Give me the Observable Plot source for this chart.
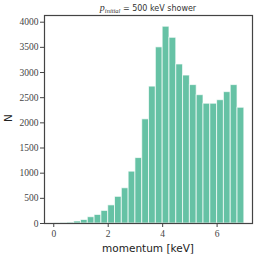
<!DOCTYPE html>
<html>
<head>
<meta charset="utf-8">
<script src="https://cdn.jsdelivr.net/npm/d3@7"></script>
<script src="https://cdn.jsdelivr.net/npm/@observablehq/plot@0.6"></script>
<style>
  body { margin: 0; background: #fff; }
  #chart svg { display: block; }
</style>
</head>
<body>
<div id="chart"></div>
<script>
// Histogram bins (keV), width 0.25
const binStarts = [0, 0.25, 0.5, 0.75, 1, 1.25, 1.5, 1.75, 2, 2.25, 2.5, 2.75, 3, 3.25, 3.5, 3.75, 4, 4.25, 4.5, 4.75, 5, 5.25, 5.5, 5.75, 6, 6.25, 6.5, 6.75];
const binWidth = 0.25;
const counts = [2, 6, 20, 40, 70, 125, 170, 250, 360, 530, 700, 1030, 1300, 2070, 2720, 3500, 3910, 3690, 3160, 2940, 2750, 2550, 2380, 2380, 2450, 2610, 2750, 2300];
const xTicks = [0, 2, 4, 6];
const yTicks = [0, 500, 1000, 1500, 2000, 2500, 3000, 3500, 4000];

const data = binStarts.map((b, i) => ({x1: b, x2: b + binWidth, n: counts[i]}));

const serif = "'Liberation Serif', 'DejaVu Serif', serif";
const sans = "'DejaVu Sans', sans-serif";
const fmt = d => String(d);

const plot = Plot.plot({
  width: 258,
  height: 259,
  marginLeft: 44,
  marginRight: 6,
  marginTop: 15,
  marginBottom: 36,
  style: {fontSize: "9px", color: "#444", background: "#fff"},
  x: {domain: [-0.34, 7.3]},
  y: {domain: [0, 4133]},
  marks: [
    Plot.rectY(data, {x1: "x1", x2: "x2", y: "n", fill: "#66c2a5", stroke: "#ffffff", strokeOpacity: 0.7, strokeWidth: 1}),
    Plot.frame({stroke: "#444", strokeWidth: 1.2}),
    Plot.axisX({ticks: xTicks, tickFormat: fmt, tickSize: 4, tickPadding: 3, label: null, fontSize: 9.5, stroke: "#444"}),
    Plot.axisY({ticks: yTicks, tickFormat: fmt, tickSize: 4, tickPadding: 2, label: null, fontSize: 9.5, stroke: "#444"})
  ]
});

const svg = d3.select(plot);
svg.selectAll("g[aria-label$='tick label'] text")
  .attr("font-family", serif)
  .style("font-family", serif)
  .attr("fill", "#444");
// x axis label
svg.append("text")
  .attr("x", 148).attr("y", 252)
  .attr("text-anchor", "middle")
  .style("font-family", sans).attr("font-size", 10.5)
  .attr("fill", "#222")
  .text("momentum [keV]");
// y axis label
svg.append("text")
  .attr("transform", "translate(12,118) rotate(-90)")
  .attr("text-anchor", "middle")
  .style("font-family", sans).attr("font-size", 10.5)
  .attr("fill", "#222")
  .text("N");
// title
const t = svg.append("text")
  .attr("x", 148).attr("y", 11)
  .attr("text-anchor", "middle")
  .style("font-family", sans).attr("font-size", 8)
  .attr("fill", "#333");
t.append("tspan").style("font-family", serif).attr("font-style", "italic").attr("font-size", 10).text("p");
t.append("tspan").style("font-family", serif).attr("font-style", "italic").attr("font-size", 6.5).attr("dy", 2).text("initial");
t.append("tspan").attr("dy", -2).text(" = 500 keV shower");

document.getElementById("chart").appendChild(plot);
</script>
</body>
</html>
